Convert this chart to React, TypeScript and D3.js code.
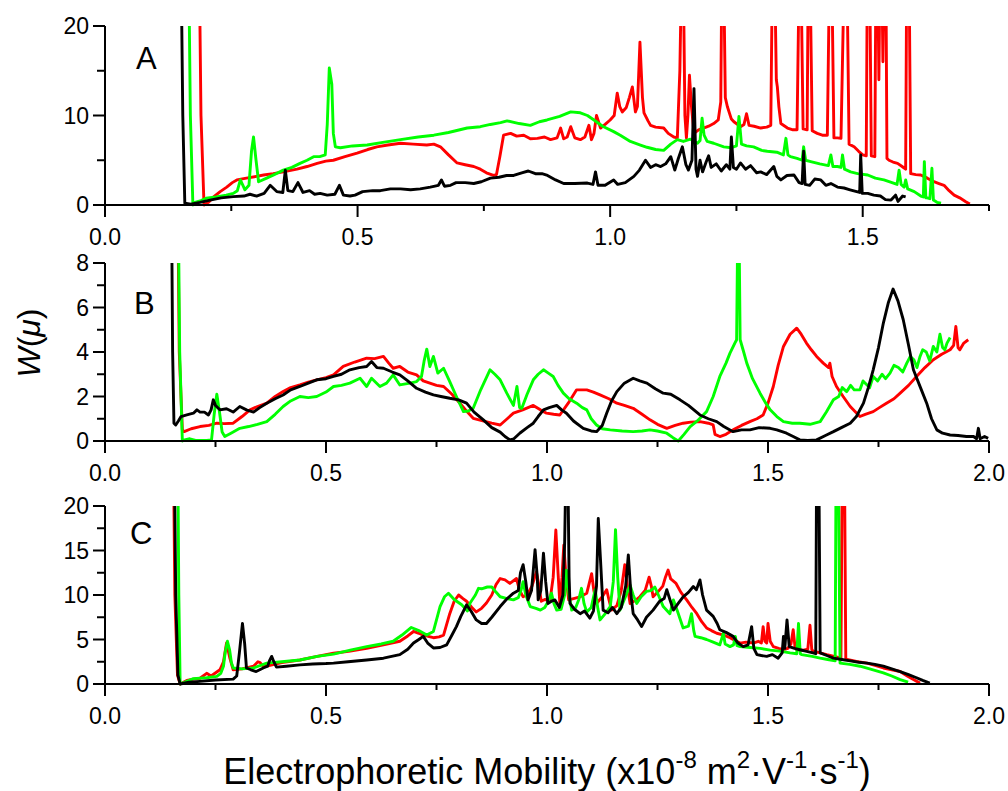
import React from "react";
import * as d3 from "d3";

type P = [number, number];

// ---------- Tick values ----------
const xMajorA = [0, 0.5, 1.0, 1.5];
const xMinorA = [0.25, 0.75, 1.25, 1.75];
const xMajorBC = [0, 0.5, 1.0, 1.5, 2.0];
const xMinorBC = [0.25, 0.75, 1.25, 1.75];
const yMajorA = [0, 10, 20];
const yMinorA = [5, 15];
const yMajorB = [0, 2, 4, 6, 8];
const yMinorB = [1, 3, 5, 7];
const yMajorC = [0, 5, 10, 15, 20];
const yMinorC = [2.5, 7.5, 12.5, 17.5];

// ---------- Panel A ----------
const aBlack: P[] = [
  [0.150, 30], [0.154, 10], [0.158, 0.2], [0.17, 0.1], [0.188, 0.3], [0.208, 0.55], [0.23, 0.8], [0.254, 0.93],
  [0.275, 1.0], [0.287, 1.2], [0.30, 1.0], [0.315, 1.3], [0.327, 2.2], [0.34, 1.5], [0.352, 1.4], [0.357, 3.9],
  [0.362, 1.6], [0.372, 1.5], [0.382, 2.5], [0.392, 1.4], [0.405, 1.6], [0.415, 1.2], [0.426, 1.3], [0.44, 1.1],
  [0.455, 1.2], [0.464, 2.2], [0.472, 1.1], [0.485, 1.0], [0.495, 1.1], [0.51, 1.5], [0.53, 1.6], [0.545, 1.6],
  [0.565, 1.8], [0.585, 1.8], [0.605, 1.7], [0.624, 1.8], [0.644, 2.0], [0.66, 2.2], [0.666, 2.8], [0.672, 2.1],
  [0.684, 2.2], [0.695, 2.5], [0.713, 2.5], [0.73, 2.4], [0.745, 2.6], [0.763, 3.0], [0.78, 3.1], [0.795, 3.3],
  [0.809, 3.3], [0.825, 3.6], [0.838, 3.8], [0.852, 3.5], [0.865, 3.5], [0.876, 3.3], [0.892, 2.8], [0.908, 2.4],
  [0.93, 2.4], [0.955, 2.45], [0.966, 2.3], [0.971, 3.7], [0.976, 2.2], [0.99, 2.2], [1.007, 2.8], [1.015, 2.3],
  [1.03, 2.5], [1.047, 3.2], [1.058, 3.9], [1.07, 5.0], [1.08, 4.2], [1.09, 4.5], [1.1, 4.3], [1.11, 4.6],
  [1.12, 5.4], [1.128, 3.9], [1.135, 5.2], [1.143, 6.5], [1.15, 4.5], [1.155, 3.9], [1.162, 5.0], [1.166, 13.0],
  [1.17, 4.0], [1.173, 3.2], [1.178, 5.0], [1.183, 3.7], [1.19, 4.8], [1.195, 5.5], [1.2, 4.2], [1.21, 4.6],
  [1.22, 3.8], [1.23, 4.5], [1.237, 4.0], [1.24, 7.6], [1.244, 4.2], [1.25, 4.0], [1.258, 4.7], [1.268, 4.0],
  [1.278, 4.4], [1.29, 3.6], [1.298, 3.7], [1.31, 3.4], [1.324, 4.3], [1.33, 3.2], [1.338, 2.8], [1.35, 3.3],
  [1.364, 3.35], [1.374, 2.5], [1.38, 2.4], [1.383, 6.0], [1.386, 2.3], [1.395, 2.2], [1.405, 2.9], [1.417, 2.8],
  [1.427, 2.2], [1.437, 2.4], [1.45, 2.0], [1.463, 1.9], [1.475, 1.7], [1.488, 1.5], [1.494, 1.4], [1.496, 5.6],
  [1.499, 1.3], [1.51, 1.3], [1.522, 1.1], [1.535, 1.0], [1.545, 0.6], [1.556, 0.55], [1.565, 1.1], [1.57, 0.4],
  [1.579, 1.0], [1.585, 0.9],
];
const aRed: P[] = [
  [0.186, 30], [0.19, 10], [0.196, 0.0], [0.205, 0.3], [0.215, 0.9], [0.228, 1.5], [0.241, 2.0], [0.252, 2.5],
  [0.261, 2.8], [0.28, 3.0], [0.3, 3.2], [0.314, 3.35], [0.333, 3.5], [0.353, 3.7], [0.38, 4.0], [0.40, 4.3],
  [0.42, 4.65], [0.437, 4.9], [0.452, 5.0], [0.475, 5.4], [0.499, 5.8], [0.52, 6.2], [0.538, 6.5], [0.56, 6.7],
  [0.585, 6.9], [0.61, 6.8], [0.637, 6.7], [0.651, 6.8], [0.664, 6.5], [0.68, 5.6], [0.697, 4.7], [0.713, 4.5],
  [0.73, 4.3], [0.743, 4.0], [0.755, 3.6], [0.769, 3.3], [0.775, 3.4], [0.782, 5.5], [0.789, 7.8], [0.803, 8.0],
  [0.815, 7.7], [0.829, 7.8], [0.842, 7.4], [0.856, 7.45], [0.87, 7.6], [0.882, 7.3], [0.895, 7.5], [0.902, 8.6],
  [0.908, 7.4], [0.915, 7.6], [0.922, 8.75], [0.93, 7.5], [0.941, 7.3], [0.95, 7.6], [0.958, 8.9], [0.963, 7.3],
  [0.968, 8.0], [0.973, 10.0], [0.981, 8.6], [0.99, 9.0], [1.0, 9.5], [1.008, 10.0], [1.014, 12.5], [1.019, 11.0],
  [1.024, 10.4], [1.032, 10.9], [1.038, 12.0], [1.044, 13.2], [1.05, 10.4], [1.054, 11.0], [1.059, 18.2], [1.064, 12.0],
  [1.067, 10.3], [1.075, 9.4], [1.08, 8.9], [1.09, 8.7], [1.106, 8.6], [1.115, 8.0], [1.126, 7.6], [1.133, 7.5],
  [1.138, 15.0], [1.141, 25], [1.145, 25], [1.148, 10.0], [1.151, 7.5], [1.154, 10.0], [1.157, 14.5], [1.161, 11.0],
  [1.166, 8.0], [1.175, 8.4], [1.185, 8.6], [1.195, 8.8], [1.205, 9.1], [1.214, 9.5], [1.219, 11.5], [1.221, 25],
  [1.225, 25], [1.228, 12.0], [1.232, 11.0], [1.24, 9.6], [1.245, 9.3], [1.258, 8.75], [1.265, 9.0], [1.27, 10.2],
  [1.275, 8.9], [1.285, 8.8], [1.298, 8.6], [1.31, 8.7], [1.318, 8.9], [1.321, 25], [1.326, 25], [1.329, 14.0],
  [1.331, 13.2], [1.334, 11.0], [1.338, 9.1], [1.351, 8.6], [1.362, 8.4], [1.37, 8.4], [1.374, 25], [1.378, 25],
  [1.382, 8.5], [1.39, 8.4], [1.392, 25], [1.396, 25], [1.4, 8.3], [1.41, 8.0], [1.42, 7.8], [1.43, 7.8],
  [1.434, 25], [1.439, 25], [1.443, 7.5], [1.45, 7.5], [1.457, 7.45], [1.463, 25], [1.469, 25], [1.473, 6.8],
  [1.483, 6.5], [1.492, 6.0], [1.5, 5.6], [1.507, 5.5], [1.509, 25], [1.514, 25], [1.517, 5.5], [1.524, 5.4],
  [1.526, 25], [1.53, 25], [1.532, 14.0], [1.534, 25], [1.538, 25], [1.54, 16.0], [1.542, 25], [1.546, 25],
  [1.548, 5.2], [1.552, 5.0], [1.56, 4.8], [1.569, 4.65], [1.578, 4.3], [1.585, 4.0], [1.587, 25], [1.592, 25],
  [1.595, 3.5], [1.605, 3.4], [1.615, 3.35], [1.628, 3.0], [1.641, 2.6], [1.651, 2.4], [1.661, 2.2], [1.671, 1.6],
  [1.681, 1.1], [1.692, 0.8], [1.704, 0.37], [1.712, 0.1],
];
const aGreen: P[] = [
  [0.165, 30], [0.169, 10], [0.174, 0.0], [0.178, 0.3], [0.19, 0.5], [0.2, 0.75], [0.22, 0.9], [0.24, 1.1],
  [0.254, 1.3], [0.262, 1.6], [0.268, 2.8], [0.273, 2.2], [0.277, 1.7], [0.285, 2.2], [0.29, 6.0], [0.294, 7.6],
  [0.299, 5.0], [0.304, 2.6], [0.32, 3.0], [0.335, 3.4], [0.353, 3.9], [0.37, 4.2], [0.386, 4.65], [0.4, 5.0],
  [0.413, 5.4], [0.425, 5.4], [0.436, 5.6], [0.44, 9.0], [0.444, 15.3], [0.449, 13.5], [0.452, 8.0], [0.456, 6.5],
  [0.466, 6.4], [0.49, 6.6], [0.519, 6.7], [0.55, 7.0], [0.585, 7.3], [0.62, 7.6], [0.651, 7.8], [0.68, 8.1],
  [0.717, 8.6], [0.743, 8.75], [0.763, 9.0], [0.783, 9.2], [0.796, 9.4], [0.82, 9.1], [0.842, 8.9], [0.86, 9.3],
  [0.875, 9.5], [0.9, 9.9], [0.922, 10.4], [0.941, 10.3], [0.955, 10.0], [0.968, 9.5], [0.985, 8.8], [1.007, 8.2],
  [1.02, 7.8], [1.04, 7.1], [1.06, 6.7], [1.073, 6.45], [1.09, 6.2], [1.106, 6.1], [1.12, 6.8], [1.133, 7.3],
  [1.145, 7.1], [1.159, 7.35], [1.173, 6.9], [1.178, 7.2], [1.182, 9.7], [1.186, 7.8], [1.192, 7.1], [1.205, 6.9],
  [1.225, 6.5], [1.24, 6.4], [1.25, 6.6], [1.255, 9.9], [1.26, 6.8], [1.27, 6.6], [1.284, 6.5], [1.3, 6.1],
  [1.311, 6.0], [1.33, 5.9], [1.343, 5.6], [1.348, 7.45], [1.352, 5.6], [1.357, 5.4], [1.37, 5.2], [1.38, 5.0],
  [1.383, 6.5], [1.387, 5.0], [1.397, 4.85], [1.415, 4.6], [1.432, 4.4], [1.437, 5.6], [1.441, 4.3], [1.45, 4.3],
  [1.457, 4.2], [1.46, 5.6], [1.464, 4.0], [1.476, 3.7], [1.49, 3.5], [1.51, 3.35], [1.525, 3.0], [1.542, 2.8],
  [1.558, 2.5], [1.568, 2.3], [1.572, 3.9], [1.576, 2.3], [1.582, 2.0], [1.585, 2.8], [1.589, 1.8], [1.602, 1.5],
  [1.615, 1.0], [1.62, 0.9], [1.622, 4.85], [1.625, 0.8], [1.628, 0.8], [1.633, 0.7], [1.637, 4.1], [1.64, 0.55],
  [1.647, 0.3], [1.655, 0.2],
];

// ---------- Panel B ----------
const bBlack: P[] = [
  [0.150, 12], [0.153, 4.0], [0.156, 0.8], [0.16, 0.72], [0.166, 0.9], [0.172, 1.1], [0.185, 1.17], [0.2, 1.25],
  [0.208, 1.4], [0.215, 1.3], [0.225, 1.3], [0.234, 1.17], [0.24, 1.4], [0.245, 1.85], [0.25, 1.6], [0.26, 1.4],
  [0.275, 1.45], [0.29, 1.3], [0.305, 1.55], [0.32, 1.4], [0.336, 1.3], [0.35, 1.5], [0.366, 1.7], [0.385, 1.9],
  [0.403, 2.07], [0.42, 2.3], [0.441, 2.45], [0.46, 2.6], [0.479, 2.75], [0.5, 2.8], [0.517, 2.9], [0.535, 3.0],
  [0.554, 3.2], [0.575, 3.3], [0.592, 3.35], [0.603, 3.57], [0.615, 3.3], [0.63, 3.27], [0.65, 3.1], [0.667, 2.97],
  [0.685, 2.7], [0.705, 2.37], [0.725, 2.2], [0.743, 2.07], [0.76, 2.0], [0.78, 1.92], [0.8, 1.85], [0.818, 1.7],
  [0.835, 1.3], [0.856, 0.95], [0.875, 0.6], [0.894, 0.4], [0.905, 0.2], [0.916, 0.05], [0.925, 0.1], [0.939, 0.36],
  [0.955, 0.6], [0.969, 0.8], [0.98, 1.1], [0.992, 1.4], [1.005, 1.5], [1.022, 1.6], [1.033, 1.4], [1.044, 1.25],
  [1.06, 0.9], [1.082, 0.57], [1.1, 0.45], [1.112, 0.42], [1.125, 0.7], [1.135, 1.25], [1.146, 1.8], [1.158, 2.22],
  [1.175, 2.6], [1.195, 2.82], [1.21, 2.7], [1.226, 2.6], [1.245, 2.35], [1.263, 2.15], [1.28, 2.1], [1.301, 1.85],
  [1.32, 1.6], [1.346, 1.17], [1.365, 1.0], [1.384, 0.87], [1.4, 0.65], [1.421, 0.42], [1.44, 0.5], [1.459, 0.5],
  [1.48, 0.6], [1.505, 0.57], [1.52, 0.5], [1.542, 0.35], [1.557, 0.2], [1.572, 0.05], [1.59, 0.02], [1.61, 0.05],
  [1.63, 0.25], [1.648, 0.42], [1.666, 0.6], [1.686, 0.8], [1.7, 1.1], [1.716, 1.7], [1.727, 2.4], [1.738, 3.2],
  [1.75, 4.2], [1.761, 5.3], [1.772, 6.2], [1.783, 6.83], [1.794, 6.3], [1.806, 5.45], [1.818, 4.3], [1.829, 3.2],
  [1.845, 2.4], [1.859, 1.7], [1.87, 1.0], [1.882, 0.5], [1.895, 0.35], [1.912, 0.27], [1.93, 0.25], [1.949, 0.2],
  [1.965, 0.2], [1.972, 0.1], [1.976, 0.57], [1.98, 0.1], [1.99, 0.2], [1.998, 0.12],
];
const bRed: P[] = [
  [0.164, 12], [0.168, 4.0], [0.175, 0.5], [0.179, 0.42], [0.195, 0.55], [0.215, 0.65], [0.235, 0.7], [0.253, 0.8],
  [0.27, 0.78], [0.29, 0.8], [0.31, 1.1], [0.328, 1.4], [0.345, 1.55], [0.366, 1.7], [0.385, 2.0], [0.403, 2.22],
  [0.42, 2.4], [0.441, 2.52], [0.46, 2.65], [0.479, 2.75], [0.5, 2.85], [0.517, 2.97], [0.539, 3.35], [0.565, 3.55],
  [0.592, 3.72], [0.61, 3.7], [0.63, 3.8], [0.642, 3.5], [0.652, 3.27], [0.667, 3.35], [0.685, 3.1], [0.705, 2.97],
  [0.72, 2.7], [0.735, 2.6], [0.75, 2.5], [0.766, 2.45], [0.785, 2.1], [0.803, 1.7], [0.82, 1.3], [0.833, 1.02],
  [0.855, 0.9], [0.875, 0.8], [0.894, 0.72], [0.91, 1.0], [0.924, 1.25], [0.945, 1.4], [0.969, 1.6], [0.985, 1.4],
  [0.999, 1.25], [1.015, 1.2], [1.029, 1.17], [1.048, 1.7], [1.067, 2.3], [1.09, 2.3], [1.105, 2.2], [1.12, 2.07],
  [1.14, 1.9], [1.158, 1.7], [1.175, 1.6], [1.195, 1.47], [1.215, 1.2], [1.233, 0.95], [1.25, 0.75], [1.271, 0.57],
  [1.29, 0.7], [1.308, 0.8], [1.325, 0.85], [1.346, 0.87], [1.365, 0.8], [1.376, 0.72], [1.38, 0.3], [1.391, 0.2],
  [1.405, 0.3], [1.421, 0.5], [1.44, 0.7], [1.459, 0.87], [1.475, 1.0], [1.489, 1.17], [1.5, 1.7], [1.512, 2.45],
  [1.523, 3.4], [1.535, 4.25], [1.55, 4.8], [1.565, 5.07], [1.575, 4.8], [1.587, 4.4], [1.598, 4.1], [1.61, 3.8],
  [1.625, 3.5], [1.637, 3.3], [1.64, 3.5], [1.645, 2.9], [1.655, 2.45], [1.67, 2.0], [1.686, 1.55], [1.698, 1.3],
  [1.708, 1.1], [1.72, 1.2], [1.738, 1.32], [1.752, 1.5], [1.768, 1.7], [1.785, 1.9], [1.799, 2.15], [1.818, 2.5],
  [1.836, 2.9], [1.855, 3.3], [1.874, 3.65], [1.893, 3.9], [1.912, 4.1], [1.92, 4.3], [1.925, 5.15], [1.93, 4.2],
  [1.934, 4.1], [1.943, 4.4], [1.953, 4.55],
];
const bGreen: P[] = [
  [0.165, 12], [0.169, 4.0], [0.175, 0.0], [0.18, 0.05], [0.192, 0.1], [0.205, 0.03], [0.215, 0.02], [0.23, 0.03],
  [0.241, 0.05], [0.247, 1.2], [0.253, 2.1], [0.259, 1.3], [0.265, 0.4], [0.271, 0.2], [0.285, 0.35], [0.305, 0.57],
  [0.325, 0.65], [0.345, 0.75], [0.366, 0.87], [0.385, 1.2], [0.403, 1.55], [0.42, 1.8], [0.441, 2.0], [0.46, 1.95],
  [0.479, 2.0], [0.5, 2.2], [0.517, 2.45], [0.535, 2.5], [0.554, 2.6], [0.577, 2.82], [0.592, 2.45], [0.603, 2.82],
  [0.622, 2.45], [0.637, 2.6], [0.652, 2.97], [0.667, 2.52], [0.69, 2.6], [0.705, 2.67], [0.716, 2.9], [0.722, 3.6],
  [0.728, 4.13], [0.735, 3.35], [0.743, 3.8], [0.753, 3.05], [0.766, 3.27], [0.78, 2.67], [0.795, 2.0], [0.811, 1.32],
  [0.822, 1.35], [0.833, 1.47], [0.85, 2.3], [0.871, 3.2], [0.882, 3.0], [0.894, 2.75], [0.909, 2.15], [0.924, 1.6],
  [0.932, 2.45], [0.938, 1.5], [0.943, 1.47], [0.955, 2.1], [0.969, 2.75], [0.98, 3.0], [0.992, 3.2], [1.003, 3.05],
  [1.014, 2.9], [1.025, 2.5], [1.037, 2.15], [1.05, 1.9], [1.067, 1.7], [1.08, 1.5], [1.09, 1.4], [1.1, 1.0],
  [1.112, 0.72], [1.125, 0.55], [1.143, 0.5], [1.17, 0.45], [1.195, 0.42], [1.215, 0.45], [1.233, 0.5], [1.25, 0.45],
  [1.271, 0.35], [1.285, 0.15], [1.297, 0.0], [1.31, 0.3], [1.324, 0.65], [1.34, 0.9], [1.361, 1.32], [1.376, 2.0],
  [1.391, 2.9], [1.405, 3.5], [1.414, 3.95], [1.425, 4.4], [1.429, 4.55], [1.431, 8.5], [1.435, 8.5], [1.437, 4.55],
  [1.445, 4.0], [1.452, 3.5], [1.465, 2.8], [1.482, 2.15], [1.495, 1.7], [1.505, 1.4], [1.52, 1.1], [1.535, 0.87],
  [1.555, 0.8], [1.572, 0.8], [1.595, 0.75], [1.618, 0.87], [1.632, 1.3], [1.648, 1.85], [1.66, 2.0], [1.668, 2.4],
  [1.678, 2.22], [1.687, 2.5], [1.695, 2.3], [1.708, 2.3], [1.715, 2.7], [1.72, 2.6], [1.73, 2.4], [1.738, 2.9],
  [1.748, 2.7], [1.758, 3.0], [1.766, 2.8], [1.776, 3.05], [1.785, 3.4], [1.795, 3.3], [1.805, 3.1], [1.814, 3.5],
  [1.822, 3.8], [1.83, 3.65], [1.837, 3.3], [1.844, 3.8], [1.85, 4.1], [1.858, 4.0], [1.866, 3.6], [1.874, 4.25],
  [1.882, 4.0], [1.889, 4.8], [1.895, 4.2], [1.9, 4.1], [1.905, 4.4], [1.912, 4.65],
];

// ---------- Panel C ----------
const cBlack: P[] = [
  [0.156, 30], [0.16, 10], [0.165, 1.0], [0.17, 0.0], [0.19, 0.2], [0.215, 0.3], [0.25, 0.45], [0.29, 0.55],
  [0.298, 0.9], [0.304, 3.5], [0.311, 6.8], [0.316, 4.5], [0.32, 1.8], [0.33, 1.6], [0.342, 1.4], [0.358, 1.8],
  [0.368, 2.0], [0.372, 2.6], [0.377, 3.1], [0.382, 2.5], [0.388, 1.9], [0.41, 2.0], [0.441, 2.15], [0.47, 2.25],
  [0.5, 2.3], [0.517, 2.35], [0.55, 2.5], [0.592, 2.7], [0.63, 2.9], [0.667, 3.3], [0.685, 3.9], [0.698, 4.6],
  [0.71, 5.0], [0.72, 5.35], [0.73, 4.6], [0.743, 4.05], [0.758, 4.1], [0.773, 4.4], [0.785, 5.5], [0.795, 6.45],
  [0.805, 7.6], [0.818, 8.9], [0.828, 8.2], [0.84, 7.2], [0.852, 6.8], [0.863, 6.8], [0.875, 7.5], [0.894, 8.7],
  [0.91, 9.6], [0.924, 10.2], [0.935, 10.5], [0.94, 12.5], [0.946, 13.4], [0.952, 11.5], [0.957, 9.45], [0.965, 10.5],
  [0.973, 15.1], [0.978, 12.0], [0.98, 9.45], [0.986, 10.5], [0.992, 14.7], [0.997, 11.5], [1.002, 9.05], [1.01, 9.3],
  [1.018, 9.45], [1.028, 8.6], [1.036, 10.0], [1.04, 16.0], [1.043, 25], [1.047, 25], [1.05, 12.0], [1.052, 9.05],
  [1.062, 8.4], [1.075, 7.9], [1.085, 8.2], [1.097, 7.4], [1.105, 8.2], [1.112, 11.0], [1.116, 18.6], [1.121, 14.0],
  [1.127, 8.3], [1.138, 8.0], [1.148, 8.6], [1.158, 7.9], [1.168, 8.6], [1.178, 11.0], [1.184, 14.5], [1.19, 10.0],
  [1.195, 7.9], [1.205, 7.2], [1.214, 6.45], [1.225, 7.5], [1.24, 8.3], [1.255, 9.3], [1.265, 9.6], [1.271, 10.6],
  [1.278, 9.5], [1.286, 8.3], [1.296, 9.0], [1.308, 9.8], [1.32, 10.3], [1.331, 10.95], [1.338, 10.6], [1.346, 11.7],
  [1.352, 10.0], [1.361, 8.3], [1.376, 7.6], [1.385, 6.8], [1.391, 6.1], [1.405, 5.8], [1.421, 5.35], [1.432, 4.6],
  [1.444, 4.2], [1.455, 4.4], [1.463, 6.45], [1.468, 4.0], [1.475, 3.3], [1.485, 3.2], [1.497, 3.1], [1.51, 3.3],
  [1.523, 2.9], [1.532, 3.5], [1.535, 5.35], [1.538, 4.0], [1.543, 7.2], [1.548, 4.2], [1.56, 4.0], [1.572, 3.85],
  [1.585, 3.7], [1.602, 3.5], [1.608, 3.4], [1.61, 25], [1.615, 25], [1.618, 3.5], [1.633, 3.2], [1.648, 2.9],
  [1.667, 2.75], [1.686, 2.6], [1.705, 2.45], [1.724, 2.35], [1.742, 2.2], [1.761, 2.0], [1.78, 1.7], [1.799, 1.4],
  [1.818, 1.05], [1.836, 0.7], [1.85, 0.4], [1.866, 0.1],
];
const cRed: P[] = [
  [0.154, 30], [0.158, 10], [0.164, 1.0], [0.17, 0.0], [0.185, 0.4], [0.2, 0.55], [0.215, 0.65], [0.23, 1.2],
  [0.24, 0.9], [0.26, 1.6], [0.268, 2.5], [0.275, 4.6], [0.282, 3.0], [0.29, 1.6], [0.31, 1.7], [0.336, 2.0],
  [0.346, 2.5], [0.351, 2.4], [0.358, 2.0], [0.366, 2.0], [0.4, 2.4], [0.441, 2.7], [0.48, 3.1], [0.517, 3.45],
  [0.555, 3.7], [0.592, 4.0], [0.63, 4.4], [0.667, 4.8], [0.685, 5.4], [0.698, 5.9], [0.71, 5.7], [0.72, 5.5],
  [0.743, 5.2], [0.756, 5.3], [0.766, 5.5], [0.78, 7.9], [0.79, 9.3], [0.8, 10.0], [0.81, 9.6], [0.818, 9.3],
  [0.83, 8.6], [0.84, 8.1], [0.852, 8.5], [0.863, 9.1], [0.875, 10.0], [0.885, 11.2], [0.894, 11.85], [0.905, 11.7],
  [0.916, 11.3], [0.931, 11.85], [0.938, 10.5], [0.946, 9.8], [0.955, 10.0], [0.966, 11.0], [0.976, 12.6], [0.982, 11.0],
  [0.987, 9.3], [0.995, 9.5], [1.007, 9.45], [1.014, 12.0], [1.02, 17.3], [1.025, 12.5], [1.029, 9.05], [1.034, 12.0],
  [1.038, 15.6], [1.043, 12.0], [1.049, 9.45], [1.06, 9.6], [1.075, 9.8], [1.09, 10.2], [1.101, 12.4], [1.106, 10.5],
  [1.112, 9.05], [1.125, 9.8], [1.135, 10.6], [1.14, 9.5], [1.146, 8.3], [1.158, 8.8], [1.168, 10.5], [1.176, 13.4],
  [1.182, 11.0], [1.188, 9.05], [1.2, 9.4], [1.21, 9.8], [1.222, 10.5], [1.231, 12.0], [1.236, 11.0], [1.24, 9.8],
  [1.25, 10.3], [1.262, 11.0], [1.268, 12.0], [1.274, 12.8], [1.28, 11.8], [1.292, 11.3], [1.303, 10.3], [1.316, 9.45],
  [1.328, 8.6], [1.339, 7.9], [1.35, 7.0], [1.361, 6.3], [1.372, 6.0], [1.384, 5.7], [1.4, 5.5], [1.414, 5.2],
  [1.425, 4.9], [1.437, 4.6], [1.45, 4.7], [1.467, 4.6], [1.478, 4.8], [1.485, 4.6], [1.489, 6.45], [1.493, 4.8],
  [1.497, 4.6], [1.5, 6.8], [1.505, 4.8], [1.512, 4.2], [1.524, 4.0], [1.535, 3.85], [1.545, 4.0], [1.552, 4.5],
  [1.557, 6.1], [1.561, 4.2], [1.565, 3.85], [1.58, 3.8], [1.59, 3.9], [1.595, 6.6], [1.599, 3.9], [1.602, 3.7],
  [1.618, 3.5], [1.633, 3.3], [1.65, 3.1], [1.665, 2.9], [1.668, 25], [1.673, 25], [1.676, 2.8], [1.679, 2.75],
  [1.7, 2.55], [1.724, 2.35], [1.742, 2.1], [1.761, 1.8], [1.78, 1.6], [1.799, 1.4], [1.815, 0.9], [1.829, 0.5],
  [1.844, 0.1],
];
const cGreen: P[] = [
  [0.164, 30], [0.167, 10], [0.17, 0.0], [0.185, 0.3], [0.2, 0.6], [0.23, 0.7], [0.253, 0.85], [0.262, 1.2],
  [0.268, 2.0], [0.272, 3.6], [0.277, 4.8], [0.282, 3.8], [0.286, 2.4], [0.29, 1.8], [0.31, 1.7], [0.336, 1.8],
  [0.366, 2.35], [0.4, 2.5], [0.441, 2.7], [0.48, 3.1], [0.517, 3.35], [0.555, 3.8], [0.592, 4.2], [0.625, 4.5],
  [0.652, 4.8], [0.672, 5.5], [0.693, 6.35], [0.71, 6.0], [0.728, 5.5], [0.743, 5.9], [0.758, 8.7], [0.768, 9.8],
  [0.777, 10.2], [0.79, 9.5], [0.807, 8.9], [0.82, 8.2], [0.826, 9.1], [0.838, 10.0], [0.845, 10.75], [0.852, 10.7],
  [0.865, 10.9], [0.875, 10.9], [0.885, 10.3], [0.894, 9.8], [0.91, 9.6], [0.924, 9.45], [0.935, 9.7], [0.941, 10.5],
  [0.946, 11.5], [0.952, 10.0], [0.962, 8.7], [0.975, 8.5], [0.985, 8.3], [0.995, 8.6], [1.005, 9.5], [1.01, 10.2],
  [1.016, 9.0], [1.022, 8.3], [1.032, 8.4], [1.04, 10.0], [1.044, 12.8], [1.05, 10.0], [1.056, 8.3], [1.065, 8.6],
  [1.072, 9.5], [1.078, 10.75], [1.084, 9.0], [1.09, 8.1], [1.1, 8.6], [1.109, 10.6], [1.115, 8.5], [1.12, 7.2],
  [1.13, 7.8], [1.143, 8.7], [1.15, 11.5], [1.155, 17.35], [1.16, 12.0], [1.165, 8.3], [1.175, 9.5], [1.188, 11.1],
  [1.195, 10.0], [1.203, 9.05], [1.213, 9.8], [1.225, 10.4], [1.235, 10.5], [1.244, 10.9], [1.252, 10.0], [1.263, 8.7],
  [1.278, 7.9], [1.286, 9.45], [1.295, 8.2], [1.308, 6.3], [1.32, 6.5], [1.327, 7.9], [1.332, 6.0], [1.335, 5.35],
  [1.348, 5.2], [1.361, 5.0], [1.376, 4.7], [1.391, 4.4], [1.399, 5.7], [1.403, 4.5], [1.414, 4.2], [1.422, 4.4],
  [1.426, 5.35], [1.43, 4.3], [1.437, 4.2], [1.46, 4.1], [1.482, 4.0], [1.505, 3.8], [1.527, 3.7], [1.55, 3.5],
  [1.565, 3.4], [1.569, 6.8], [1.573, 3.4], [1.576, 3.3], [1.6, 3.1], [1.618, 2.9], [1.635, 2.75], [1.652, 2.6],
  [1.654, 25], [1.659, 25], [1.663, 2.35], [1.685, 2.2], [1.708, 2.0], [1.73, 1.7], [1.761, 1.25], [1.78, 0.9],
  [1.799, 0.5], [1.817, 0.2],
];

const COLORS = { black: "#000000", red: "#ff0000", green: "#00ff00" };
const FONT = "'Liberation Sans', Arimo, Arial, Helvetica, sans-serif";

type PanelProps = {
  id: string;
  label: string;
  labelPos: [number, number];
  xDomain: [number, number];
  yDomain: [number, number];
  top: number;
  bottom: number;
  xMajor: number[];
  xMinor: number[];
  yMajor: number[];
  yMinor: number[];
  yFmt: (v: number) => string;
  series: { data: P[]; color: string }[];
};

const LEFT = 105;
const RIGHT = 989;

function Panel(p: PanelProps) {
  const x = d3.scaleLinear().domain(p.xDomain).range([LEFT, RIGHT]);
  const y = d3.scaleLinear().domain(p.yDomain).range([p.bottom, p.top]);
  const line = d3
    .line<P>()
    .x((d) => x(d[0]))
    .y((d) => y(d[1]));
  const xf = d3.format(".1f");
  const clipId = `clip-${p.id}`;
  return (
    <g>
      <defs>
        <clipPath id={clipId}>
          <rect x={LEFT} y={p.top} width={RIGHT - LEFT} height={p.bottom - p.top + 3} />
        </clipPath>
      </defs>
      <g clipPath={`url(#${clipId})`}>
        {p.series.map((s, i) => (
          <path
            key={i}
            d={line(s.data) || ""}
            fill="none"
            stroke={s.color}
            strokeWidth={2.9}
            strokeLinejoin="round"
          />
        ))}
      </g>
      <line x1={LEFT} x2={RIGHT} y1={p.bottom} y2={p.bottom} stroke="#000" strokeWidth={2} />
      <line x1={LEFT} x2={LEFT} y1={p.top} y2={p.bottom} stroke="#000" strokeWidth={2} />
      {p.xMajor.map((v) => (
        <g key={"xM" + v}>
          <line x1={x(v)} x2={x(v)} y1={p.bottom} y2={p.bottom + 12} stroke="#000" strokeWidth={2} />
          <text x={x(v)} y={p.bottom + 40} textAnchor="middle" fontSize={23} fontFamily={FONT} fill="#000">
            {xf(v)}
          </text>
        </g>
      ))}
      {p.xMinor.map((v) => (
        <line key={"xm" + v} x1={x(v)} x2={x(v)} y1={p.bottom} y2={p.bottom + 6} stroke="#000" strokeWidth={2} />
      ))}
      {p.yMajor.map((v) => (
        <g key={"yM" + v}>
          <line x1={LEFT - 12} x2={LEFT} y1={y(v)} y2={y(v)} stroke="#000" strokeWidth={2} />
          <text x={LEFT - 16} y={y(v) + 8} textAnchor="end" fontSize={23} fontFamily={FONT} fill="#000">
            {p.yFmt(v)}
          </text>
        </g>
      ))}
      {p.yMinor.map((v) => (
        <line key={"ym" + v} x1={LEFT - 8} x2={LEFT} y1={y(v)} y2={y(v)} stroke="#000" strokeWidth={2} />
      ))}
      <text x={p.labelPos[0]} y={p.labelPos[1]} fontSize={31} fontFamily={FONT} fill="#000">
        {p.label}
      </text>
    </g>
  );
}

export default function App() {
  const yf = d3.format("d");
  return (
    <svg
      width={1008}
      height={791}
      style={{ position: "absolute", left: 0, top: 0, background: "#fff" }}
      xmlns="http://www.w3.org/2000/svg"
    >
      <rect x={0} y={0} width={1008} height={791} fill="#fff" />
      <Panel
        id="A"
        label="A"
        labelPos={[136, 69]}
        xDomain={[0, 1.75]}
        yDomain={[0, 20]}
        top={26}
        bottom={205}
        xMajor={xMajorA}
        xMinor={xMinorA}
        yMajor={yMajorA}
        yMinor={yMinorA}
        yFmt={yf}
        series={[
          { data: aRed, color: COLORS.red },
          { data: aGreen, color: COLORS.green },
          { data: aBlack, color: COLORS.black },
        ]}
      />
      <Panel
        id="B"
        label="B"
        labelPos={[134, 314]}
        xDomain={[0, 2]}
        yDomain={[0, 8]}
        top={263}
        bottom={441}
        xMajor={xMajorBC}
        xMinor={xMinorBC}
        yMajor={yMajorB}
        yMinor={yMinorB}
        yFmt={yf}
        series={[
          { data: bRed, color: COLORS.red },
          { data: bGreen, color: COLORS.green },
          { data: bBlack, color: COLORS.black },
        ]}
      />
      <Panel
        id="C"
        label="C"
        labelPos={[130, 544]}
        xDomain={[0, 2]}
        yDomain={[0, 20]}
        top={506}
        bottom={684}
        xMajor={xMajorBC}
        xMinor={xMinorBC}
        yMajor={yMajorC}
        yMinor={yMinorC}
        yFmt={yf}
        series={[
          { data: cRed, color: COLORS.red },
          { data: cGreen, color: COLORS.green },
          { data: cBlack, color: COLORS.black },
        ]}
      />
      <text
        transform="translate(40,343) rotate(-90)"
        textAnchor="middle"
        fontSize={32}
        fontFamily={FONT}
        fill="#000"
      >
        <tspan fontStyle="italic">W</tspan>
        <tspan>(</tspan>
        <tspan fontStyle="italic">μ</tspan>
        <tspan>)</tspan>
      </text>
      <text x={547} y={784} textAnchor="middle" fontSize={36} fontFamily={FONT} fill="#000">
        <tspan>Electrophoretic Mobility (x10</tspan>
        <tspan fontSize={24} dy={-16}>-8</tspan>
        <tspan dy={16}> m</tspan>
        <tspan fontSize={24} dy={-16}>2</tspan>
        <tspan dy={16}>·V</tspan>
        <tspan fontSize={24} dy={-16}>-1</tspan>
        <tspan dy={16}>·s</tspan>
        <tspan fontSize={24} dy={-16}>-1</tspan>
        <tspan dy={16}>)</tspan>
      </text>
    </svg>
  );
}
